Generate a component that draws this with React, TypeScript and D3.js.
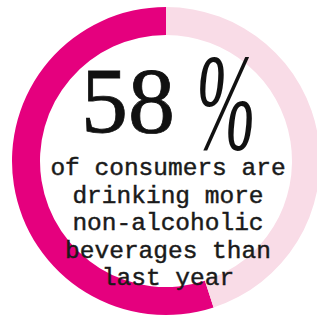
import React from "react";
import * as d3 from "d3";

const segments = ["drinking more", "rest"];
const arcValues = [55, 45];
const colors = ["#E5007E", "#F9DCE7"];
const headline = "58";
const headlineUnit = "%";
const bodyLines = [
  "of consumers are",
  "drinking more",
  "non-alcoholic",
  "beverages than",
  "last year",
];

export default function App() {
  const W = 317;
  const H = 316;
  const cx = 166;
  const cy = 161;
  const outerR = 154;
  const innerR = 126;

  const pie = d3
    .pie<number>()
    .sort(null)
    .startAngle(0)
    .endAngle(-2 * Math.PI);
  const arcs = pie(arcValues);
  const arcGen = d3.arc<d3.PieArcDatum<number>>().innerRadius(innerR).outerRadius(outerR);

  const lineY = d3.scaleLinear().domain([0, 1]).range([175, 202.5]);

  return (
    <svg
      width={W}
      height={H}
      style={{ position: "absolute", left: 0, top: 0, background: "#fff" }}
    >
      <g transform={`translate(${cx},${cy})`}>
        {arcs.map((a, i) => (
          <path key={segments[i]} d={arcGen(a) || ""} fill={colors[i]} />
        ))}
      </g>
      <text
        x={128}
        y={132}
        textAnchor="middle"
        fontFamily="'Liberation Serif', serif"
        fontSize={94}
        fill="#111"
        stroke="#111"
        strokeWidth={0.8}
      >
        {headline}
      </text>
      <text
        transform="translate(226,149) scale(0.72,1.38)"
        textAnchor="middle"
        fontFamily="'Liberation Serif', serif"
        fontStyle="italic"
        fontSize={100}
        fill="#111"
      >
        {headlineUnit}
      </text>
      {bodyLines.map((t, i) => (
        <text
          key={t}
          x={168}
          y={lineY(i)}
          textAnchor="middle"
          fontFamily="'Liberation Mono', monospace"
          fontSize={24.5}
          fill="#1a1a1a"
          stroke="#1a1a1a"
          strokeWidth={0.45}
        >
          {t}
        </text>
      ))}
    </svg>
  );
}
